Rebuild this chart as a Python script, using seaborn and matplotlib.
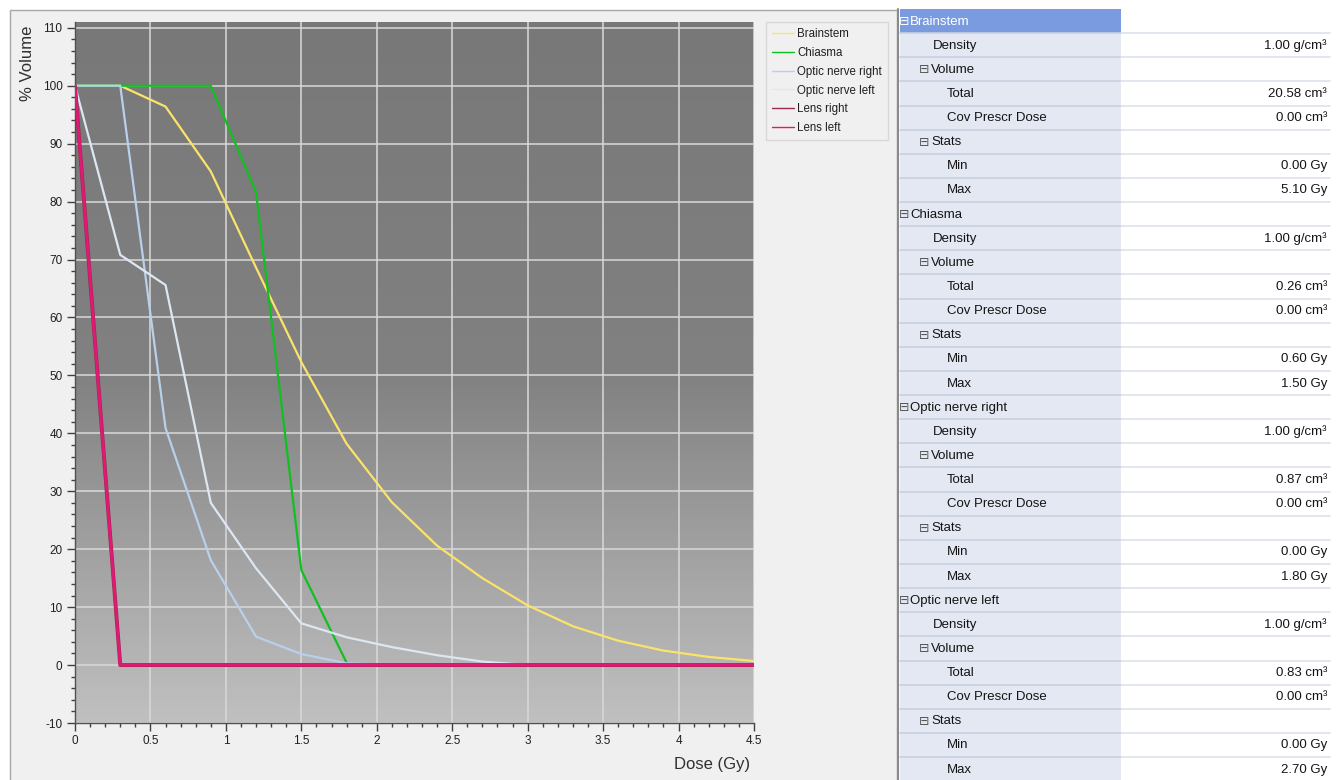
import numpy as np
import pandas as pd
import seaborn as sns
import matplotlib.pyplot as plt
from matplotlib.patches import Rectangle
from matplotlib.colors import LinearSegmentedColormap
from matplotlib.ticker import MultipleLocator, FuncFormatter

# DVH curves (dose in Gy, volume in %)
brainstem_dose = [0, 0.3, 0.6, 0.9, 1.2, 1.5, 1.8, 2.1, 2.4, 2.7, 3.0, 3.3, 3.6, 3.9, 4.2, 4.5]
brainstem_vol = [100, 100, 96.4, 85.2, 68.6, 52.3, 38.2, 28.1, 20.6, 15.0, 10.3, 6.7, 4.2, 2.5, 1.4, 0.7]
chiasma_dose = [0, 0.3, 0.6, 0.9, 1.2, 1.5, 1.8]
chiasma_vol = [100, 100, 100, 100, 81.6, 16.4, 0.4]
on_right_dose = [0, 0.3, 0.6, 0.9, 1.2, 1.5, 1.8, 2.1]
on_right_vol = [100, 100, 40.9, 18.1, 4.9, 1.9, 0.3, 0]
on_left_dose = [0, 0.3, 0.6, 0.9, 1.2, 1.5, 1.8, 2.1, 2.4, 2.7, 3.0]
on_left_vol = [100, 70.8, 65.6, 28.0, 16.7, 7.2, 4.8, 3.1, 1.7, 0.6, 0]
lens_right_dose = [0, 0.3, 4.5]
lens_right_vol = [100, 0, 0]
lens_left_dose = [0, 0.3, 4.5]
lens_left_vol = [100, 0, 0]

structures = ["Brainstem", "Chiasma", "Optic nerve right", "Optic nerve left", "Lens right", "Lens left"]
colors = ["#fbe36a", "#10c020", "#b8d0ec", "#dde7f2", "#a02848", "#e01878"]
widths = [1.6, 1.6, 1.6, 1.6, 2.8, 2.0]

# property table values
organs = ["Brainstem", "Chiasma", "Optic nerve right", "Optic nerve left"]
density = ["1.00 g/cm³", "1.00 g/cm³", "1.00 g/cm³", "1.00 g/cm³"]
vol_total = ["20.58 cm³", "0.26 cm³", "0.87 cm³", "0.83 cm³"]
vol_cov = ["0.00 cm³", "0.00 cm³", "0.00 cm³", "0.00 cm³"]
dose_min = ["0.00 Gy", "0.60 Gy", "0.00 Gy", "0.00 Gy"]
dose_max = ["5.10 Gy", "1.50 Gy", "1.80 Gy", "2.70 Gy"]

frames = []
for name, d, v in zip(structures,
                      [brainstem_dose, chiasma_dose, on_right_dose, on_left_dose, lens_right_dose, lens_left_dose],
                      [brainstem_vol, chiasma_vol, on_right_vol, on_left_vol, lens_right_vol, lens_left_vol]):
    frames.append(pd.DataFrame({"dose": d, "volume": v, "structure": name}))
df = pd.concat(frames, ignore_index=True)

sns.set_style("ticks")
plt.rcParams["font.family"] = ["Liberation Sans", "DejaVu Sans"]
plt.rcParams["axes.unicode_minus"] = False

W, H = 1336, 780
fig = plt.figure(figsize=(W / 100, H / 100), dpi=100)
fig.patch.set_facecolor("white")

# background canvas in pixel coordinates (panel + table)
bg = fig.add_axes([0, 0, 1, 1], zorder=0)
bg.set_xlim(0, W)
bg.set_ylim(H, 0)
bg.axis("off")
bg.add_patch(Rectangle((10, 10), 887, 775, facecolor="#f0f0f0", edgecolor="#a8a8a8", lw=1))

# table
rows = []
for i, org in enumerate(organs):
    rows += [(0, org, ""), (1, "Density", density[i]), (1, "⊟Volume", ""),
             (2, "Total", vol_total[i]), (2, "Cov Prescr Dose", vol_cov[i]),
             (1, "⊟Stats", ""), (2, "Min", dose_min[i]), (2, "Max", dose_max[i])]
rh = 24.13
x0, xm, x1 = 900, 1121, 1330
for j, (lvl, lab, val) in enumerate(rows):
    top = 9 + rh * j
    sel = j == 0
    bg.add_patch(Rectangle((x0, top), xm - x0, rh, facecolor="#7b9be0" if sel else "#e4e8f3", lw=0))
    bg.add_patch(Rectangle((xm, top), x1 - xm, rh, facecolor="white", lw=0))
    bg.plot([x0, xm], [top + rh, top + rh], color="#c8d0e2", lw=1.2)
    bg.plot([xm, x1], [top + rh, top + rh], color="#dde2ec", lw=1.2)
    yc = top + rh / 2 + 0.5
    tcol = "white" if sel else "#141414"
    if lvl == 0:
        bg.text(899, yc, "⊟", fontsize=9, color=tcol if sel else "#555555", va="center", ha="left",
                family="DejaVu Sans")
        bg.text(910, yc, lab, fontsize=9.5, color=tcol, va="center", ha="left")
    elif lab.startswith("⊟"):
        bg.text(919, yc, "⊟", fontsize=9, color="#555555", va="center", ha="left", family="DejaVu Sans")
        bg.text(931, yc, lab[1:], fontsize=9.5, color=tcol, va="center", ha="left")
    else:
        bg.text(933 if lvl == 1 else 947, yc, lab, fontsize=9.5, color=tcol, va="center", ha="left")
    if val:
        bg.text(1327, yc, val, fontsize=9.5, color=tcol, va="center", ha="right")
bg.plot([898, 898], [9, H], color="#8a8a8a", lw=1.5)

# DVH plot
ax = fig.add_axes([75 / W, 1 - 723 / H, (754 - 75) / W, (723 - 22) / H], zorder=2)
cmap = LinearSegmentedColormap.from_list("bg", ["#787878", "#818181", "#c0c0c0"])
ax.imshow(np.linspace(0, 1, 256).reshape(-1, 1), cmap=cmap, extent=[0, 1, 0, 1],
          transform=ax.transAxes, aspect="auto", zorder=0)

for name, c, lw in zip(structures, colors, widths):
    sub = df[df["structure"] == name]
    sns.lineplot(data=sub, x="dose", y="volume", color=c, lw=lw, label=name,
                 ax=ax, sort=False, estimator=None, zorder=3)

ax.set_xlim(0, 4.5)
ax.set_ylim(-10, 111)
ax.set_aspect("auto")
ax.xaxis.set_major_locator(MultipleLocator(0.5))
ax.xaxis.set_minor_locator(MultipleLocator(0.1))
ax.yaxis.set_major_locator(MultipleLocator(10))
ax.yaxis.set_minor_locator(MultipleLocator(2))
ax.xaxis.set_major_formatter(FuncFormatter(lambda v, p: "%g" % v))
ax.set_axisbelow(True)
ax.grid(which="major", color="#d9d9d9", lw=1.1)
ax.tick_params(which="major", length=6, width=1, color="#404040", labelsize=8.5, labelcolor="#202020", pad=3)
ax.tick_params(which="minor", length=3, width=1, color="#404040")
for s in ["top", "right"]:
    ax.spines[s].set_visible(False)
for s in ["left", "bottom"]:
    ax.spines[s].set_color("#505050")
    ax.spines[s].set_linewidth(1)
ax.set_xlabel("")
ax.set_ylabel("")

leg = ax.legend(loc="upper left", bbox_to_anchor=(766 / W, 1 - 22 / H), bbox_transform=fig.transFigure,
                frameon=True, fancybox=False, facecolor="#f0f0f0", edgecolor="#d2d2d2", fontsize=8.3,
                handlelength=1.9, handletextpad=0.3, labelspacing=0.6, borderpad=0.5, borderaxespad=0)
for line in leg.get_lines():
    line.set_linewidth(1.0)
for t in leg.get_texts():
    t.set_color("#202020")
leg.get_frame().set_linewidth(1)

fig.text(28 / W, 1 - 63 / H, "% Volume", rotation=90, fontsize=12, color="#303030", ha="center", va="center")
fig.text(750 / W, 1 - 765 / H, "Dose (Gy)", fontsize=12, color="#303030", ha="right", va="center")

fig.savefig("out.png", dpi=100)
